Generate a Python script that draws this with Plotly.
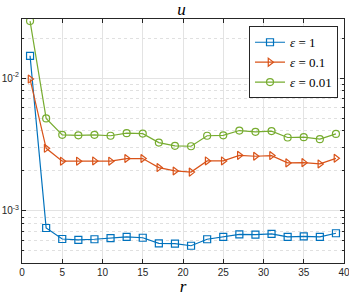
import plotly.graph_objects as go

r = [1, 3, 5, 7, 9, 11, 13, 15, 17, 19, 21, 23, 25, 27, 29, 31, 33, 35, 37, 39]
u_eps1 = [0.01472, 0.000744, 0.000615, 0.000605, 0.000612, 0.000625, 0.000637, 0.000628,
          0.000570, 0.000567, 0.000547, 0.000612, 0.000637, 0.000667, 0.000664, 0.000671,
          0.000637, 0.000643, 0.000637, 0.000679]
u_eps01 = [0.00983, 0.00296, 0.00237, 0.00237, 0.00238, 0.00237, 0.00248, 0.00248,
           0.00212, 0.00200, 0.00196, 0.00238, 0.00238, 0.00262, 0.00258, 0.00261,
           0.00230, 0.00231, 0.00226, 0.00249]
u_eps001 = [0.0269, 0.00497, 0.00374, 0.00371, 0.00374, 0.00368, 0.00385, 0.00382,
            0.00327, 0.00309, 0.00307, 0.00368, 0.00371, 0.00403, 0.00394, 0.00399,
            0.00357, 0.00359, 0.00347, 0.00380]
names = ["<i>ε</i> = 1", "<i>ε</i> = 0.1", "<i>ε</i> = 0.01"]
x_ticks = [0, 5, 10, 15, 20, 25, 30, 35, 40]
y_tickvals = [1e-3, 1e-2]
y_ticktext = ["10<sup>-3</sup>", "10<sup>-2</sup>"]
y_minor = [k * 10.0 ** e for e in (-4, -3, -2) for k in range(2, 10)]

colors = ["#0072BD", "#D95319", "#77AC30"]
symbols = ["square-open", "triangle-right-open", "circle-open"]

fig = go.Figure()
for ys, nm, c, s in zip([u_eps1, u_eps01, u_eps001], names, colors, symbols):
    fig.add_trace(go.Scatter(
        x=r, y=ys, name=nm, mode="lines+markers",
        line=dict(color=c, width=1.2),
        marker=dict(symbol=s, size=7, color=c, line=dict(width=1.2, color=c)),
    ))

axis_common = dict(
    showline=True, linecolor="#262626", linewidth=1, mirror="ticks",
    ticks="inside", ticklen=4, tickcolor="#262626", automargin=False,
    gridcolor="#e3e3e3", gridwidth=1, zeroline=False, ticklabeloverflow="allow",
    tickfont=dict(family="Liberation Sans, Arial", size=10, color="#262626"),
)

fig.update_layout(
    width=349, height=296,
    margin=dict(l=22, r=5, t=19, b=33),
    paper_bgcolor="white", plot_bgcolor="white",
    title=dict(text="<i>u</i>", x=0.52, xanchor="center", y=0.99, yanchor="top",
               font=dict(family="Liberation Serif, DejaVu Serif", size=17, color="black")),
    xaxis=dict(range=[0, 40], tickvals=x_ticks,
               title=dict(text="<i>r</i>", standoff=4,
                          font=dict(family="Liberation Serif, DejaVu Serif", size=17, color="black")),
               **axis_common),
    yaxis=dict(type="log", range=[-3.392, -1.555], tickvals=y_tickvals, ticktext=y_ticktext,
               minor=dict(showgrid=True, griddash="dot", gridcolor="#e0e0e0", gridwidth=1,
                          tickmode="array", tickvals=y_minor,
                          ticks="inside", ticklen=2, tickcolor="#262626"),
               **axis_common),
    legend=dict(x=0.705, y=0.97, xanchor="left", yanchor="top",
                bgcolor="white", bordercolor="#262626", borderwidth=1,
                font=dict(family="Liberation Serif, DejaVu Serif", size=13, color="black"),
                tracegroupgap=0, itemwidth=30),
    showlegend=True,
)

fig.write_html("out.html", config={"displayModeBar": False},
               post_script="document.body.style.margin='0';")
